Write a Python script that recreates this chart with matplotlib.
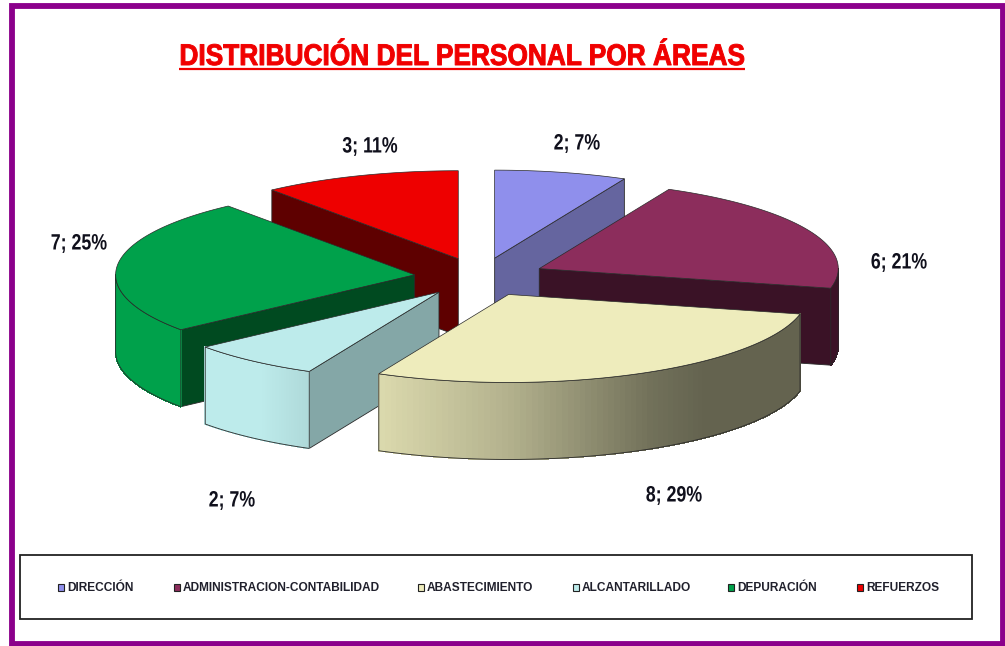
import numpy as np
import matplotlib

matplotlib.use("Agg")
import matplotlib.pyplot as plt
from matplotlib.colors import to_rgb
from matplotlib.patches import Polygon, Rectangle
from matplotlib.patheffects import AbstractPathEffect
from matplotlib.transforms import Affine2D

# data
categories = [
    "DIRECCIÓN",
    "ADMINISTRACION-CONTABILIDAD",
    "ABASTECIMIENTO",
    "ALCANTARILLADO",
    "DEPURACIÓN",
    "REFUERZOS",
]
values = [2, 6, 8, 2, 7, 3]
title = "DISTRIBUCIÓN DEL PERSONAL POR ÁREAS"

# colours
top_colors = ["#8F8FEC", "#8C2D5C", "#EEECBC", "#BDEBEB", "#00A14B", "#EE0000"]
face_colors = ["#65659F", "#3A1226", "#65634F", "#84A7A7", "#004A20", "#5E0000"]
edge = "#2a2a2a"

# layout, in pixels of the 1005x646 picture
cx, cy = 480, 277
rx, ry = 299, 88
depth = 77
explode = 0.22
label_pos = [(577, 144), (899, 263), (674, 496), (232, 501), (79, 244), (370, 147)]
legend_x = [60, 176, 420, 575, 730, 859]
draw_order = [0, 5, 1, 4, 3, 2]


class Squeeze(AbstractPathEffect):
    # no narrow font installed, so squeeze the glyphs around their centre
    def __init__(self, sx, stroke=0.0):
        super().__init__()
        self.sx = sx
        self.stroke = stroke

    def draw_path(self, renderer, gc, tpath, affine, rgbFace=None):
        box = tpath.get_extents()
        mid = (box.x0 + box.x1) / 2
        t = Affine2D().translate(-mid, 0).scale(self.sx, 1).translate(mid, 0) + affine
        gc0 = renderer.new_gc()
        gc0.copy_properties(gc)
        if self.stroke:
            gc0.set_linewidth(self.stroke)
            gc0.set_foreground(rgbFace)
        renderer.draw_path(gc0, tpath, t, rgbFace)
        gc0.restore()


fig = plt.figure(figsize=(10.05, 6.46), dpi=100)
ax = fig.add_axes([0, 0, 1, 1])
ax.set_xlim(0, 1005)
ax.set_ylim(646, 0)
ax.axis("off")


def rim_shade(s):
    # side of the pie gets darker towards the right
    return np.interp(s, [-1, -0.6, -0.43, 0, 0.48, 0.65, 1], [1, 1, 0.92, 0.75, 0.475, 0.42, 0.42])


def ring(ox, oy, a):
    return np.column_stack([ox + rx * np.sin(a), oy - ry * np.cos(a)])


total = sum(values)
angles = np.cumsum([0] + values) / total * 2 * np.pi

for z, i in enumerate(draw_order):
    a0, a1 = angles[i], angles[i + 1]
    mid = (a0 + a1) / 2
    ox = cx + explode * rx * np.sin(mid)
    oy = cy - explode * ry * np.cos(mid)
    pts = ring(ox, oy, np.linspace(a0, a1, 120))
    apex = np.array([ox, oy])
    down = np.array([0, depth])
    base_z = z * 3 + 1

    # cut faces that look at the viewer
    for a, visible in ((a0, np.sin(a0) < -1e-6), (a1, np.sin(a1) > 1e-6)):
        if visible:
            p = ring(ox, oy, np.array([a]))[0]
            ax.add_patch(Polygon([apex, p, p + down, apex + down], closed=True,
                                 fc=face_colors[i], ec=edge, lw=0.6, zorder=base_z))

    # rim, front half only
    lo, hi = max(a0, np.pi / 2), min(a1, 3 * np.pi / 2)
    if hi > lo:
        rim_a = np.linspace(lo, hi, 90)
        rim = ring(ox, oy, rim_a)
        base = np.array(to_rgb(top_colors[i]))
        for k in range(len(rim_a) - 1):
            c = base * rim_shade(np.sin((rim_a[k] + rim_a[k + 1]) / 2))
            ax.add_patch(Polygon([rim[k], rim[k + 1], rim[k + 1] + down, rim[k] + down], closed=True,
                                 fc=c, ec=c, lw=0.5, antialiased=False, zorder=base_z))
        outline = np.vstack([rim, (rim + down)[::-1]])
        ax.add_patch(Polygon(outline, closed=True, fc="none", ec=edge, lw=0.6, zorder=base_z + 1))

    # top
    ax.add_patch(Polygon(np.vstack([apex, pts]), closed=True, fc=top_colors[i], ec=edge, lw=0.5,
                         zorder=base_z + 2))

# data labels
for v, (x, y) in zip(values, label_pos):
    ax.text(x, y, f"{v}; {round(100 * v / total)}%", ha="center", va="center",
            fontsize=16, fontweight="bold", family="Liberation Sans", color="#10101c",
            zorder=40, path_effects=[Squeeze(0.8)])

# title
ax.text(462, 65, title, ha="center", va="baseline", fontsize=21.5, fontweight="bold",
        family="Liberation Sans", color="#F00000", zorder=40, path_effects=[Squeeze(0.88, 0.7)])
ax.plot([179, 745], [69, 69], color="#F00000", lw=1.6, solid_capstyle="butt", zorder=40)

# legend
ax.add_patch(Rectangle((20, 555), 952, 64, fc="white", ec="#222222", lw=1.3, zorder=30))
for name, col, x in zip(categories, top_colors, legend_x):
    ax.add_patch(Rectangle((x - 2, 584), 6, 7, fc=col, ec="#222222", lw=0.8, zorder=31))
    ax.text(x + 7, 588, name, ha="left", va="center", fontsize=8.6, fontweight="bold",
            family="Liberation Sans", color="#20202c", zorder=31)

# outer frame
ax.add_patch(Rectangle((11.5, 6), 991, 638, fc="none", ec="#8B008B", lw=4.2, zorder=50))

fig.savefig("out.png", dpi=100, facecolor="white")
plt.close(fig)
